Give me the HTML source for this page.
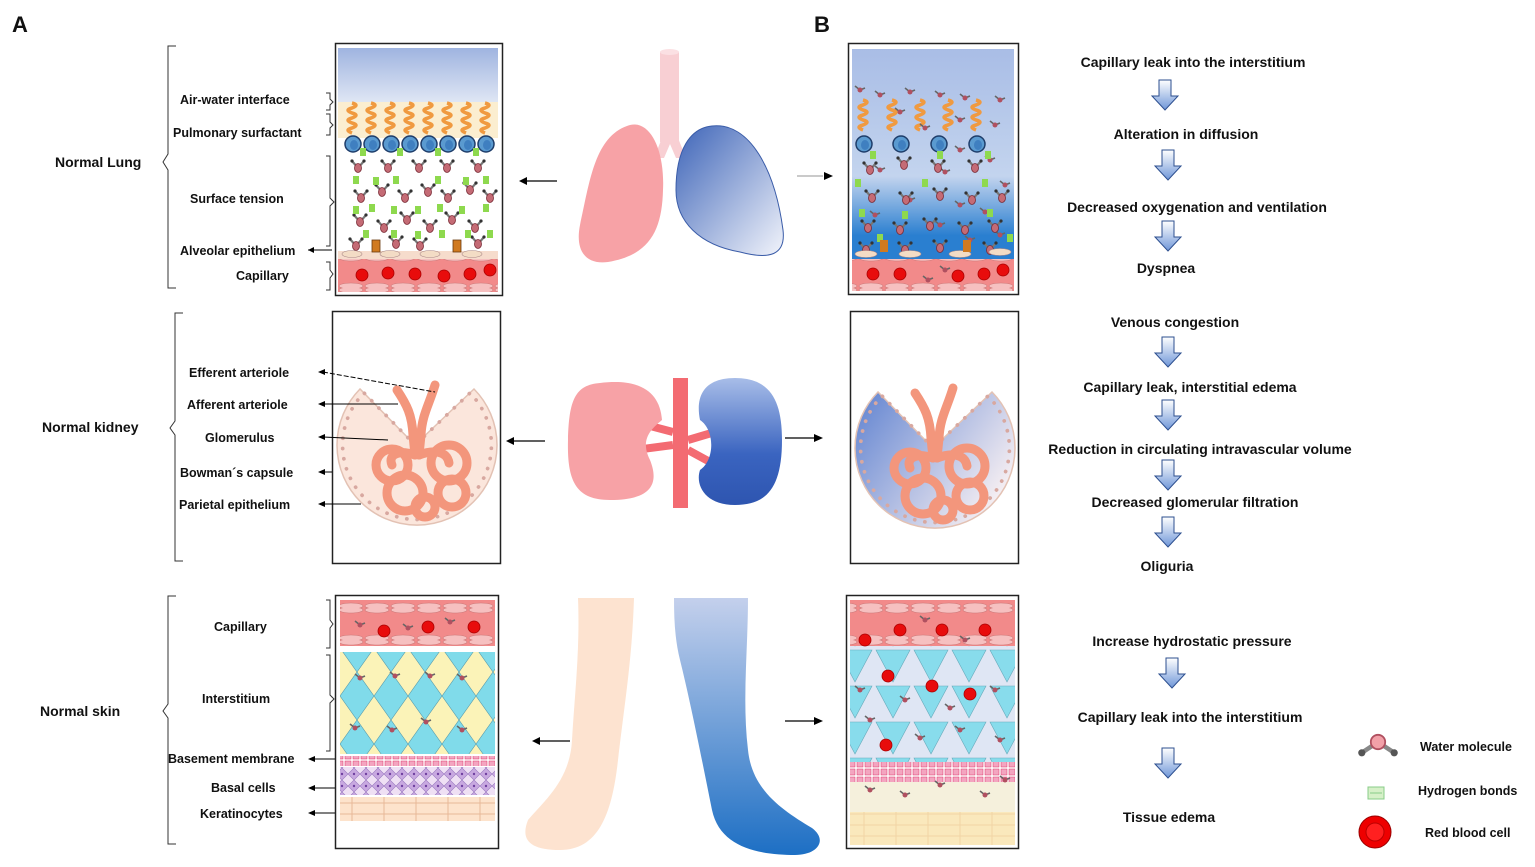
<!DOCTYPE html>
<html><head><meta charset="utf-8"><style>
body{margin:0;background:#fff}
svg{display:block}
text{font-family:"Liberation Sans",Arial,sans-serif;font-weight:bold;fill:#111}
.l{font-size:12.5px}
.f{font-size:14px;text-anchor:middle}
.h{font-size:14px}
</style></head><body>
<svg width="1535" height="867" viewBox="0 0 1535 867" xmlns="http://www.w3.org/2000/svg">
<defs>
<linearGradient id="sky" x1="0" y1="0" x2="0" y2="1"><stop offset="0" stop-color="#9fb4e0"/><stop offset="1" stop-color="#dfe6f4"/></linearGradient>
<linearGradient id="skyB" x1="0" y1="0" x2="0" y2="1"><stop offset="0" stop-color="#a9bde6"/><stop offset="0.6" stop-color="#c3d4ee"/><stop offset="0.88" stop-color="#2a7fd0"/><stop offset="1" stop-color="#2a7fd0"/></linearGradient>
<linearGradient id="blung" x1="0" y1="0" x2="1" y2="1"><stop offset="0" stop-color="#3d64b8"/><stop offset="1" stop-color="#f2f4fb"/></linearGradient>
<linearGradient id="bkid" x1="0" y1="0" x2="0" y2="1"><stop offset="0" stop-color="#a8bde8"/><stop offset="0.6" stop-color="#3a64c0"/><stop offset="1" stop-color="#2e55b0"/></linearGradient>
<linearGradient id="bleg" x1="0" y1="0" x2="0" y2="1"><stop offset="0" stop-color="#c4d0ec"/><stop offset="1" stop-color="#1d6fc4"/></linearGradient>
<linearGradient id="arr" x1="0" y1="0" x2="0" y2="1"><stop offset="0" stop-color="#ffffff"/><stop offset="1" stop-color="#6f96d8"/></linearGradient>
<linearGradient id="kb" x1="0" y1="0" x2="1" y2="0.6"><stop offset="0" stop-color="#5f82d0"/><stop offset="1" stop-color="#f5eef2"/></linearGradient>
<g id="w"><line x1="0" y1="0" x2="-6" y2="-7" stroke="#777" stroke-width="2.2"/><line x1="0" y1="0" x2="6" y2="-7" stroke="#777" stroke-width="2.2"/><circle cx="-6" cy="-7" r="1.6" fill="#333"/><circle cx="6" cy="-7" r="1.6" fill="#333"/><ellipse cx="0" cy="0" rx="3.5" ry="4.5" fill="#c46b75" stroke="#7a2a35" stroke-width="0.8"/></g>
<g id="ws"><line x1="0" y1="0" x2="-5" y2="-4" stroke="#666" stroke-width="1.6"/><line x1="0" y1="0" x2="5" y2="-2" stroke="#666" stroke-width="1.6"/><circle cx="0" cy="0" r="2.5" fill="#b05060"/></g>
<g id="sp"><path d="M0,0 q8,2 0,5 q-8,2 0,5 q8,2 0,5 q-8,2 0,5 q8,2 0,5 q-8,2 0,5" fill="none" stroke="#f09a40" stroke-width="3.5"/></g>
<g id="bc"><circle r="8" fill="#5a9ad0" stroke="#1e3d6a" stroke-width="1.5"/><ellipse cx="1" cy="1" rx="4" ry="5" fill="#3f7fc0"/></g>
<g id="rb"><circle r="6" fill="#e80c0c" stroke="#a00" stroke-width="0.8"/></g>
<g id="da"><path d="M-6,0 h12 v16 h7 l-13,14 l-13,-14 h7z" fill="url(#arr)" stroke="#2d4f8f" stroke-width="1"/></g>
<g id="g"><rect x="-3" y="-4" width="6" height="8" fill="#8ed94e"/></g>
<g id="glom" fill="none" stroke="#f3967c" stroke-width="9" stroke-linecap="round">
<path d="M-20,-55 C-10,-40 -5,-30 -4,-10 L-2,10"/>
<path d="M18,-60 C12,-40 5,-30 4,-10 L2,10"/>
<circle cx="-25" cy="20" r="16"/><circle cx="-12" cy="48" r="18"/><circle cx="32" cy="18" r="18"/><circle cx="35" cy="48" r="14"/><circle cx="8" cy="62" r="10"/>
<path d="M-2,10 C-15,5 -30,8 -25,20"/><path d="M2,10 C15,5 30,5 32,18"/>
</g>
<g id="cap"><path d="M-2,0 L-57,-56 A80,80 0 1 0 57,-56 Z" stroke="#e3c2b4" stroke-width="1.5"/><path d="M-2,0 L-57,-56 A80,80 0 1 0 57,-56 Z" fill="none" stroke="#d8a8a0" stroke-width="4" stroke-dasharray="0.1 11" stroke-linecap="round" transform="translate(0,0) scale(0.93)"/></g>
<pattern id="capA" width="26" height="32" patternUnits="userSpaceOnUse"><rect width="26" height="32" fill="#f28a8a"/><ellipse cx="13" cy="2" rx="12" ry="3" fill="#f6c0c0" stroke="#c77" stroke-width=".6"/><ellipse cx="13" cy="30" rx="12" ry="3" fill="#f6c0c0" stroke="#c77" stroke-width=".6"/></pattern>
<pattern id="dia" width="34" height="48" patternUnits="userSpaceOnUse"><rect width="34" height="48" fill="#fbf3b8"/><path d="M17,0 L34,24 L17,48 L0,24Z" fill="#80dbea" stroke="#59a" stroke-width=".6"/></pattern>
<pattern id="bas" width="12" height="12" patternUnits="userSpaceOnUse"><rect width="12" height="12" fill="#efe0f4"/><path d="M6,0 L12,6 L6,12 L0,6Z" fill="#c8a8e0" stroke="#9a7ac0" stroke-width=".6"/><circle cx="6" cy="6" r="1.2" fill="#7040a0"/></pattern>
<pattern id="bm" width="8" height="8" patternUnits="userSpaceOnUse"><rect width="8" height="8" fill="#fff"/><rect x="1" y="1" width="6" height="6" fill="#f3a5c0" stroke="#d36" stroke-width=".5"/></pattern>
<pattern id="ker" width="32" height="11" patternUnits="userSpaceOnUse"><rect width="32" height="11" fill="#fde3cc" stroke="#e8b898" stroke-width="1"/></pattern>
<pattern id="tri" width="38" height="36" patternUnits="userSpaceOnUse"><rect width="38" height="36" fill="#dfe6f4"/><path d="M2,2 L36,2 L19,34Z" fill="#88dcec" stroke="#6ab" stroke-width=".6"/></pattern>
</defs>

<text x="12" y="32" style="font-size:22px">A</text>
<text x="814" y="32" style="font-size:22px">B</text>

<!-- ================= LUNG ROW ================= -->
<path d="M176,46 h-8 v108 l-5,8 l5,8 v118 h8" fill="none" stroke="#333" stroke-width="1"/>
<text class="h" x="55" y="167">Normal Lung</text>
<text class="l" x="180" y="104">Air-water interface</text>
<text class="l" x="173" y="137">Pulmonary surfactant</text>
<text class="l" x="190" y="203">Surface tension</text>
<text class="l" x="180" y="255">Alveolar epithelium</text>
<text class="l" x="236" y="280">Capillary</text>
<path d="M326,93 h4 v6 l3,3 l-3,3 v5 h-4 M326,114 h4 v8 l3,3 l-3,3 v7 h-4 M326,156 h4 v42 l4,4 l-4,4 v40 h-4 M326,262 h4 v8 l3,4 l-3,4 v12 h-4" fill="none" stroke="#333" stroke-width="1"/>
<path d="M308,250 h24" stroke="#000"/><path d="M308,250 l6,-3 v6z"/>

<rect x="335.5" y="43.5" width="167" height="252" fill="#fff" stroke="#222" stroke-width="1.5"/>
<rect x="338" y="48" width="160" height="54" fill="url(#sky)"/>
<rect x="338" y="102" width="160" height="36" fill="#fbeed0"/>
<g>
<use href="#sp" x="352" y="103"/><use href="#sp" x="371" y="103"/><use href="#sp" x="390" y="103"/><use href="#sp" x="409" y="103"/><use href="#sp" x="428" y="103"/><use href="#sp" x="447" y="103"/><use href="#sp" x="466" y="103"/><use href="#sp" x="485" y="103"/>
<use href="#bc" x="353" y="144"/><use href="#bc" x="372" y="144"/><use href="#bc" x="391" y="144"/><use href="#bc" x="410" y="144"/><use href="#bc" x="429" y="144"/><use href="#bc" x="448" y="144"/><use href="#bc" x="467" y="144"/><use href="#bc" x="486" y="144"/>
</g>
<g>
<use href="#w" x="358" y="168"/><use href="#w" x="388" y="168"/><use href="#w" x="419" y="168"/><use href="#w" x="447" y="168"/><use href="#w" x="478" y="168"/>
<use href="#w" x="361" y="198"/><use href="#w" x="382" y="192"/><use href="#w" x="405" y="198"/><use href="#w" x="428" y="192"/><use href="#w" x="448" y="198"/><use href="#w" x="470" y="190"/><use href="#w" x="490" y="198"/>
<use href="#w" x="360" y="222"/><use href="#w" x="384" y="228"/><use href="#w" x="407" y="220"/><use href="#w" x="430" y="228"/><use href="#w" x="452" y="220"/><use href="#w" x="475" y="228"/>
<use href="#w" x="356" y="246"/><use href="#w" x="396" y="244"/><use href="#w" x="420" y="246"/><use href="#w" x="478" y="244"/>
<use href="#g" x="363" y="152"/><use href="#g" x="400" y="152"/><use href="#g" x="438" y="152"/><use href="#g" x="476" y="152"/>
<use href="#g" x="356" y="180"/><use href="#g" x="376" y="181"/><use href="#g" x="396" y="180"/><use href="#g" x="438" y="180"/><use href="#g" x="466" y="181"/><use href="#g" x="486" y="180"/>
<use href="#g" x="356" y="210"/><use href="#g" x="372" y="208"/><use href="#g" x="394" y="210"/><use href="#g" x="418" y="210"/><use href="#g" x="440" y="208"/><use href="#g" x="462" y="210"/><use href="#g" x="486" y="208"/>
<use href="#g" x="366" y="234"/><use href="#g" x="394" y="234"/><use href="#g" x="418" y="235"/><use href="#g" x="442" y="234"/><use href="#g" x="468" y="234"/><use href="#g" x="490" y="234"/>
</g>
<rect x="338" y="251" width="160" height="8" fill="#f6dccc"/>
<ellipse cx="352" cy="254" rx="10" ry="3.5" fill="#f3dcc5" stroke="#a88" stroke-width=".6"/><ellipse cx="390" cy="254" rx="10" ry="3.5" fill="#f3dcc5" stroke="#a88" stroke-width=".6"/><ellipse cx="430" cy="254" rx="10" ry="3.5" fill="#f3dcc5" stroke="#a88" stroke-width=".6"/><ellipse cx="472" cy="254" rx="10" ry="3.5" fill="#f3dcc5" stroke="#a88" stroke-width=".6"/>
<rect x="372" y="240" width="8" height="12" fill="#d07a20" stroke="#6a3a10" stroke-width=".8"/><rect x="453" y="240" width="8" height="12" fill="#d07a20" stroke="#6a3a10" stroke-width=".8"/>
<rect x="338" y="259" width="160" height="33" fill="url(#capA)"/>
<use href="#rb" x="362" y="275"/><use href="#rb" x="388" y="273"/><use href="#rb" x="415" y="274"/><use href="#rb" x="444" y="276"/><use href="#rb" x="470" y="274"/><use href="#rb" x="490" y="270"/>

<path d="M522,181 h35" stroke="#000" stroke-width="1.3"/><path d="M519,181 l8,-4 v8z"/>
<rect x="660" y="52" width="19" height="90" fill="#f8cfd3"/>
<ellipse cx="669.5" cy="52" rx="9.5" ry="3" fill="#fbe0e3"/>
<path d="M662,138 l-8,20 h10 l6,-14 l6,14 h10 l-8,-20z" fill="#f8cfd3"/>
<path d="M630,125 C650,120 665,150 663,190 C662,230 650,255 608,262 C585,265 575,250 580,225 C590,180 595,135 630,125Z" fill="#f7a2a6"/>
<path d="M712,126 C750,122 775,170 783,230 C786,255 770,260 740,252 C700,245 676,222 676,190 C676,150 690,128 712,126Z" fill="url(#blung)" stroke="#3a5ca8" stroke-width="1"/>
<path d="M797,176 h26" stroke="#aaa" stroke-width="1.3"/><path d="M833,176 l-9,-4 v8z"/>

<rect x="848.5" y="43.5" width="170" height="251" fill="#fff" stroke="#222" stroke-width="1.5"/>
<rect x="852" y="49" width="162" height="212" fill="url(#skyB)"/>
<use href="#sp" x="863" y="100"/><use href="#sp" x="892" y="100"/><use href="#sp" x="920" y="100"/><use href="#sp" x="948" y="100"/><use href="#sp" x="976" y="100"/>
<use href="#bc" x="864" y="144"/><use href="#bc" x="901" y="144"/><use href="#bc" x="939" y="144"/><use href="#bc" x="977" y="144"/>
<g>
<use href="#ws" x="860" y="90"/><use href="#ws" x="880" y="95"/><use href="#ws" x="910" y="92"/><use href="#ws" x="940" y="95"/><use href="#ws" x="965" y="98"/><use href="#ws" x="1000" y="100"/>
<use href="#ws" x="900" y="112"/><use href="#ws" x="960" y="120"/><use href="#ws" x="995" y="125"/><use href="#ws" x="925" y="128"/>
<use href="#ws" x="960" y="150"/><use href="#ws" x="990" y="160"/><use href="#ws" x="880" y="170"/><use href="#ws" x="945" y="172"/><use href="#ws" x="1005" y="185"/>
<use href="#ws" x="910" y="200"/><use href="#ws" x="960" y="205"/><use href="#ws" x="985" y="212"/><use href="#ws" x="875" y="215"/><use href="#ws" x="940" y="225"/>
<use href="#ws" x="970" y="240"/><use href="#ws" x="1000" y="235"/><use href="#ws" x="925" y="265"/><use href="#ws" x="950" y="280"/>
<use href="#w" x="870" y="170"/><use href="#w" x="904" y="165"/><use href="#w" x="938" y="168"/><use href="#w" x="975" y="168"/>
<use href="#w" x="872" y="198"/><use href="#w" x="906" y="200"/><use href="#w" x="940" y="196"/><use href="#w" x="972" y="200"/><use href="#w" x="1002" y="198"/>
<use href="#w" x="868" y="228"/><use href="#w" x="900" y="230"/><use href="#w" x="930" y="226"/><use href="#w" x="965" y="230"/><use href="#w" x="995" y="228"/>
<use href="#w" x="866" y="250"/><use href="#w" x="905" y="250"/><use href="#w" x="940" y="248"/><use href="#w" x="990" y="250"/>
<use href="#g" x="873" y="155"/><use href="#g" x="940" y="155"/><use href="#g" x="988" y="155"/><use href="#g" x="858" y="183"/><use href="#g" x="925" y="183"/><use href="#g" x="985" y="183"/><use href="#g" x="862" y="213"/><use href="#g" x="905" y="215"/><use href="#g" x="990" y="213"/><use href="#g" x="880" y="238"/><use href="#g" x="1010" y="238"/>
</g>
<ellipse cx="866" cy="254" rx="11" ry="3.5" fill="#f3dcc5" stroke="#a88" stroke-width=".6"/><ellipse cx="910" cy="254" rx="11" ry="3.5" fill="#f3dcc5" stroke="#a88" stroke-width=".6"/><ellipse cx="960" cy="254" rx="11" ry="3.5" fill="#f3dcc5" stroke="#a88" stroke-width=".6"/><ellipse cx="1000" cy="252" rx="11" ry="3.5" fill="#f3dcc5" stroke="#a88" stroke-width=".6"/>
<rect x="880" y="240" width="8" height="12" fill="#d07a20"/><rect x="963" y="240" width="8" height="12" fill="#d07a20"/>
<rect x="852" y="259" width="162" height="32" fill="url(#capA)"/>
<use href="#rb" x="873" y="274"/><use href="#rb" x="900" y="274"/><use href="#rb" x="958" y="276"/><use href="#rb" x="984" y="274"/><use href="#rb" x="1003" y="270"/>
<use href="#ws" x="928" y="280"/><use href="#ws" x="945" y="270"/>

<text class="f" x="1193" y="67">Capillary leak into the interstitium</text>
<use href="#da" x="1165" y="80"/>
<text class="f" x="1186" y="139">Alteration in diffusion</text>
<use href="#da" x="1168" y="150"/>
<text class="f" x="1197" y="212">Decreased oxygenation and ventilation</text>
<use href="#da" x="1168" y="221"/>
<text class="f" x="1166" y="273">Dyspnea</text>

<!-- ================= KIDNEY ROW ================= -->
<path d="M183,313 h-8 v108 l-5,7 l5,7 v126 h8" fill="none" stroke="#333" stroke-width="1"/>
<text class="h" x="42" y="432">Normal kidney</text>
<text class="l" x="189" y="377">Efferent arteriole</text>
<text class="l" x="187" y="409">Afferent arteriole</text>
<text class="l" x="205" y="442">Glomerulus</text>
<text class="l" x="180" y="477">Bowman´s capsule</text>
<text class="l" x="179" y="509">Parietal epithelium</text>
<rect x="332.5" y="311.5" width="168" height="252" fill="#fff" stroke="#222" stroke-width="1.5"/>
<use href="#cap" x="417" y="445" fill="#fbe6dc"/>
<use href="#glom" x="417" y="445"/>
<g stroke="#000" fill="none"><path d="M323,372 L435,392" stroke-dasharray="5 2"/><path d="M323,404 h75"/><path d="M323,437 L388,440"/><path d="M323,472 h9"/><path d="M323,504 h38"/></g>
<g><path d="M318,372 l7,-3 v6z"/><path d="M318,404 l7,-3 v6z"/><path d="M318,437 l7,-3 v6z"/><path d="M318,472 l7,-3 v6z"/><path d="M318,504 l7,-3 v6z"/></g>
<path d="M510,441 h35" stroke="#000" stroke-width="1.3"/><path d="M506,441 l8,-4 v8z"/>
<rect x="673" y="378" width="15" height="130" fill="#f36b72"/>
<path d="M620,418 L673,432 M620,452 L673,445 M688,440 L715,432 M688,450 L710,462" stroke="#f36b72" stroke-width="8"/>
<path d="M600,383 C640,378 660,392 662,420 C650,430 640,440 650,460 C660,485 650,500 610,500 C575,500 567,480 568,440 C569,400 575,385 600,383Z" fill="#f7a2a6"/>
<path d="M735,378 C770,378 782,400 782,440 C782,490 765,505 735,505 C705,505 695,485 700,470 C715,460 715,430 700,420 C695,395 705,378 735,378Z" fill="url(#bkid)"/>
<path d="M785,438 h30" stroke="#000" stroke-width="1.3"/><path d="M823,438 l-9,-4 v8z"/>
<rect x="850.5" y="311.5" width="168" height="252" fill="#fff" stroke="#222" stroke-width="1.5"/>
<use href="#cap" x="935" y="448" fill="url(#kb)"/>
<use href="#glom" x="935" y="448"/>

<text class="f" x="1175" y="327">Venous congestion</text>
<use href="#da" x="1168" y="337"/>
<text class="f" x="1190" y="392">Capillary leak, interstitial  edema</text>
<use href="#da" x="1168" y="400"/>
<text class="f" x="1200" y="454">Reduction in circulating intravascular volume</text>
<use href="#da" x="1168" y="460"/>
<text class="f" x="1195" y="507">Decreased glomerular filtration</text>
<use href="#da" x="1168" y="517"/>
<text class="f" x="1167" y="571">Oliguria</text>

<!-- ================= SKIN ROW ================= -->
<path d="M176,596 h-8 v108 l-5,7 l5,7 v126 h8" fill="none" stroke="#333" stroke-width="1"/>
<text class="h" x="40" y="716">Normal skin</text>
<text class="l" x="214" y="631">Capillary</text>
<text class="l" x="202" y="703">Interstitium</text>
<text class="l" x="168" y="763">Basement membrane</text>
<text class="l" x="211" y="792">Basal cells</text>
<text class="l" x="200" y="818">Keratinocytes</text>
<path d="M326,600 h4 v20 l3,4 l-3,4 v20 h-4 M326,655 h4 v40 l4,4 l-4,4 v48 h-4" fill="none" stroke="#333" stroke-width="1"/>
<g stroke="#000"><path d="M312,759 h24"/><path d="M312,788 h26"/><path d="M312,813 h26"/></g>
<g><path d="M308,759 l7,-3 v6z"/><path d="M308,788 l7,-3 v6z"/><path d="M308,813 l7,-3 v6z"/></g>
<rect x="335.5" y="595.5" width="163" height="253" fill="#fff" stroke="#222" stroke-width="1.5"/>
<rect x="340" y="600" width="155" height="46" fill="url(#capA)"/>
<use href="#rb" x="384" y="631"/><use href="#rb" x="428" y="627"/><use href="#rb" x="474" y="627"/>
<use href="#ws" x="360" y="625"/><use href="#ws" x="408" y="628"/><use href="#ws" x="450" y="622"/>
<rect x="340" y="652" width="155" height="102" fill="url(#dia)"/>
<use href="#ws" x="360" y="678"/><use href="#ws" x="395" y="676"/><use href="#ws" x="430" y="676"/><use href="#ws" x="462" y="678"/><use href="#ws" x="355" y="728"/><use href="#ws" x="392" y="730"/><use href="#ws" x="426" y="722"/><use href="#ws" x="462" y="730"/>
<rect x="340" y="756" width="155" height="10" fill="url(#bm)"/>
<rect x="340" y="767" width="155" height="28" fill="url(#bas)"/>
<rect x="340" y="797" width="155" height="24" fill="url(#ker)"/>
<path d="M578,598 H634 C632,660 625,700 618,760 C612,815 598,850 560,850 C530,850 520,840 528,820 C545,800 570,780 572,740 C575,690 580,650 578,598Z" fill="#fde3d0"/>
<path d="M674,598 H748 C748,650 742,700 748,750 C752,790 782,810 812,828 C828,840 818,855 795,855 C760,855 720,848 712,810 C702,760 690,700 680,660 C675,640 674,620 674,598Z" fill="url(#bleg)"/>
<path d="M536,741 h34" stroke="#000" stroke-width="1.3"/><path d="M532,741 l8,-4 v8z"/>
<path d="M785,721 h30" stroke="#000" stroke-width="1.3"/><path d="M823,721 l-9,-4 v8z"/>
<rect x="846.5" y="595.5" width="172" height="253" fill="#fff" stroke="#222" stroke-width="1.5"/>
<rect x="850" y="600" width="165" height="46" fill="url(#capA)"/>
<rect x="850" y="646" width="165" height="116" fill="url(#tri)"/>
<rect x="850" y="762" width="165" height="20" fill="url(#bm)"/>
<rect x="850" y="782" width="165" height="30" fill="#f5f0dc"/>
<rect x="850" y="812" width="165" height="33" fill="url(#ker)" opacity=".9"/>
<rect x="850" y="812" width="165" height="33" fill="#f7e9a8" opacity=".5"/>
<use href="#rb" x="865" y="640"/><use href="#rb" x="900" y="630"/><use href="#rb" x="942" y="630"/><use href="#rb" x="985" y="630"/>
<use href="#rb" x="888" y="676"/><use href="#rb" x="932" y="686"/><use href="#rb" x="970" y="694"/><use href="#rb" x="886" y="745"/>
<use href="#ws" x="860" y="690"/><use href="#ws" x="905" y="700"/><use href="#ws" x="950" y="708"/><use href="#ws" x="995" y="690"/><use href="#ws" x="870" y="720"/><use href="#ws" x="920" y="738"/><use href="#ws" x="960" y="730"/><use href="#ws" x="1000" y="740"/>
<use href="#ws" x="870" y="790"/><use href="#ws" x="905" y="795"/><use href="#ws" x="940" y="785"/><use href="#ws" x="985" y="795"/><use href="#ws" x="1005" y="780"/><use href="#ws" x="925" y="620"/><use href="#ws" x="965" y="640"/>

<text class="f" x="1192" y="646">Increase hydrostatic pressure</text>
<use href="#da" x="1172" y="658"/>
<text class="f" x="1190" y="722">Capillary leak into the interstitium</text>
<use href="#da" x="1168" y="748"/>
<text class="f" x="1169" y="822">Tissue edema</text>

<g transform="translate(1378,742) scale(1.8)"><line x1="0" y1="0" x2="-9" y2="6" stroke="#888" stroke-width="2.5"/><line x1="0" y1="0" x2="9" y2="6" stroke="#888" stroke-width="2.5"/><circle cx="-9" cy="6" r="2" fill="#555"/><circle cx="9" cy="6" r="2" fill="#555"/><circle r="4" fill="#f2a0a8" stroke="#b05060"/></g>
<text class="l" x="1420" y="751">Water molecule</text>
<rect x="1368" y="787" width="16" height="12" fill="#d6f0c8" stroke="#8c8" stroke-width="1"/><path d="M1370,793 h12" stroke="#8c8"/>
<text class="l" x="1418" y="795">Hydrogen bonds</text>
<circle cx="1375" cy="832" r="16" fill="#e00" stroke="#900"/><circle cx="1375" cy="832" r="9" fill="#ff2020" stroke="#b00"/>
<text class="l" x="1425" y="837">Red blood cell</text>
</svg>
</body></html>
